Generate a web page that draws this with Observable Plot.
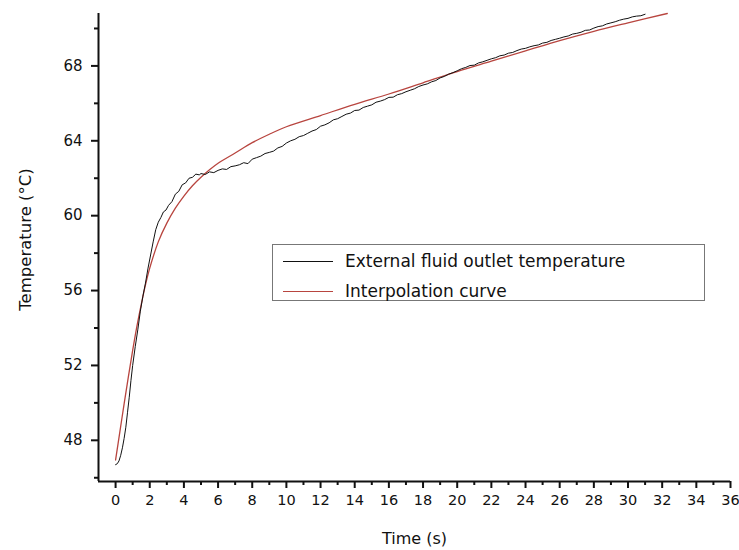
<!DOCTYPE html>
<html>
<head>
<meta charset="utf-8">
<script src="https://cdn.jsdelivr.net/npm/d3@7"></script>
<script src="https://cdn.jsdelivr.net/npm/@observablehq/plot@0.6"></script>
<style>
  html, body { margin: 0; padding: 0; background: #fff; }
  #wrap { position: relative; width: 739px; height: 550px; }
  #legend {
    position: absolute; left: 272px; top: 244px; width: 431px; height: 55px;
    border: 1.5px solid #777; background: #fff;
    font-family: "DejaVu Sans", sans-serif; font-size: 17px; color: #111;
  }
  .row { position: absolute; left: 0; height: 20px; display: flex; align-items: center; }
  .sw { width: 50px; height: 0; margin-left: 10px; margin-right: 12px; }
</style>
</head>
<body>
<div id="wrap"></div>
<script>
// Measured series: External fluid outlet temperature
const blackTime = [0.00,0.10,0.20,0.30,0.40,0.50,0.60,0.70,0.80,0.90,1.00,1.15,1.30,1.45,1.60,1.75,1.90,2.05,2.20,2.35,2.50,2.65,2.80,2.95,3.10,3.30,3.50,3.70,3.90,4.10,4.30,4.50,4.70,4.90,
  5.00,5.25,5.50,5.75,6.00,6.25,6.50,6.75,7.00,7.25,7.50,7.75,8.00,8.25,8.50,8.75,9.00,9.25,9.50,9.75,
  10.00,10.25,10.50,10.75,11.00,11.25,11.50,11.75,12.00,12.25,12.50,12.75,13.00,13.25,13.50,13.75,14.00,14.25,14.50,14.75,
  15.00,15.25,15.50,15.75,16.00,16.25,16.50,16.75,17.00,17.25,17.50,17.75,18.00,18.25,18.50,18.75,19.00,19.25,19.50,19.75,
  20.00,20.25,20.50,20.75,21.00,21.25,21.50,21.75,22.00,22.25,22.50,22.75,23.00,23.25,23.50,23.75,24.00,24.25,24.50,24.75,
  25.00,25.25,25.50,25.75,26.00,26.25,26.50,26.75,27.00,27.25,27.50,27.75,28.00,28.25,28.50,28.75,29.00,29.25,29.50,29.75,
  30.00,30.25,30.50,30.75,31.00];
const blackTemp = [46.70,46.75,46.90,47.20,47.60,48.10,48.70,49.50,50.30,51.20,52.00,53.00,53.90,54.90,55.70,56.40,57.20,57.90,58.60,59.25,59.65,59.90,60.20,60.30,60.55,60.75,61.15,61.30,61.65,61.75,62.00,62.05,62.22,62.18,
  62.25,62.20,62.34,62.30,62.42,62.50,62.47,62.62,62.66,62.72,62.83,62.78,63.02,63.10,63.18,63.32,63.38,63.45,63.62,63.70,
  63.88,64.00,64.08,64.22,64.28,64.40,64.52,64.60,64.78,64.85,64.96,65.12,65.18,65.30,65.42,65.48,65.62,65.64,65.78,65.85,
  65.92,66.06,66.12,66.20,66.32,66.33,66.46,66.52,66.62,66.70,66.78,66.90,66.98,67.04,67.15,67.22,67.36,67.44,67.56,67.64,
  67.74,67.85,67.92,68.02,68.04,68.16,68.22,68.30,68.38,68.44,68.54,68.58,68.68,68.72,68.82,68.90,68.94,69.02,69.08,69.12,
  69.22,69.26,69.36,69.42,69.48,69.55,69.60,69.70,69.74,69.80,69.90,69.92,70.02,70.10,70.14,70.24,70.30,70.36,70.44,70.50,
  70.54,70.62,70.66,70.68,70.76];

// Interpolation curve
const redTime = [0,0.25,0.5,0.75,1.0,1.25,1.5,1.75,2.0,2.5,3.0,3.5,4.0,4.5,5.0,5.5,6.0,7.0,8.0,9.0,10.0,12.0,14.0,16.0,18.0,20.0,22.0,24.0,26.0,28.0,30.0,32.3];
const redTemp = [46.95,48.45,49.95,51.40,52.80,54.10,55.25,56.30,57.20,58.60,59.60,60.40,61.05,61.60,62.05,62.45,62.80,63.35,63.90,64.35,64.75,65.35,65.95,66.50,67.10,67.70,68.25,68.80,69.35,69.85,70.30,70.80];

const xTicks = [0,2,4,6,8,10,12,14,16,18,20,22,24,26,28,30,32,34,36];
const xMinorTicks = [1,3,5,7,9,11,13,15,17,19,21,23,25,27,29,31,33,35];
const yTicks = [48,52,56,60,64,68];
const yMinorTicks = [46,50,54,58,62,66,70];

const seriesNames = ["External fluid outlet temperature", "Interpolation curve"];
const colors = ["#111111", "#b8453f"];

const black = blackTime.map((t, i) => ({t, v: blackTemp[i]}));
const red = redTime.map((t, i) => ({t, v: redTemp[i]}));

const font = '"DejaVu Sans", sans-serif';
const chart = Plot.plot({
  width: 739, height: 550,
  marginLeft: 98, marginRight: 9, marginTop: 13, marginBottom: 69,
  style: {fontFamily: font, fontSize: "15px", color: "#111", background: "#fff"},
  x: {domain: [-1, 36]},
  y: {domain: [45.8, 70.8]},
  marks: [
    Plot.line(red, {x: "t", y: "v", stroke: colors[1], strokeWidth: 1.3, curve: "catmull-rom"}),
    Plot.line(black, {x: "t", y: "v", stroke: colors[0], strokeWidth: 1, curve: "linear"}),
    Plot.axisX({ticks: xTicks, tickSize: 7, tickPadding: 6, strokeWidth: 2, label: null, fontSize: 14.5}),
    Plot.axisX({ticks: xMinorTicks, tickSize: 4, strokeWidth: 2, tickFormat: () => "", label: null}),
    Plot.axisY({ticks: yTicks, tickSize: 7, tickPadding: 9, strokeWidth: 2, label: null, fontSize: 15}),
    Plot.axisY({ticks: yMinorTicks, tickSize: 4, strokeWidth: 2, tickFormat: () => "", label: null}),
    Plot.ruleX([-1], {stroke: "#111", strokeWidth: 2}),
    Plot.ruleY([45.8], {stroke: "#111", strokeWidth: 2}),
    Plot.text(["Time (s)"], {frameAnchor: "bottom", lineAnchor: "middle", textAnchor: "middle", dy: 57, fontSize: 16, fill: "#111"}),
    Plot.text(["Temperature (°C)"], {frameAnchor: "left", textAnchor: "middle", lineAnchor: "middle", dx: -73, dy: -8, rotate: -90, fontSize: 16.5, fill: "#111"})
  ]
});
const wrap = document.getElementById("wrap");
wrap.appendChild(chart);

const legend = document.createElement("div");
legend.id = "legend";
seriesNames.forEach((name, i) => {
  const row = document.createElement("div");
  row.className = "row";
  row.style.top = (i === 0 ? 6 : 36) + "px";
  const sw = document.createElement("span");
  sw.className = "sw";
  sw.style.borderTop = "1.3px solid " + colors[i];
  const tx = document.createElement("span");
  tx.textContent = name;
  row.appendChild(sw); row.appendChild(tx);
  legend.appendChild(row);
});
wrap.appendChild(legend);
</script>
</body>
</html>
